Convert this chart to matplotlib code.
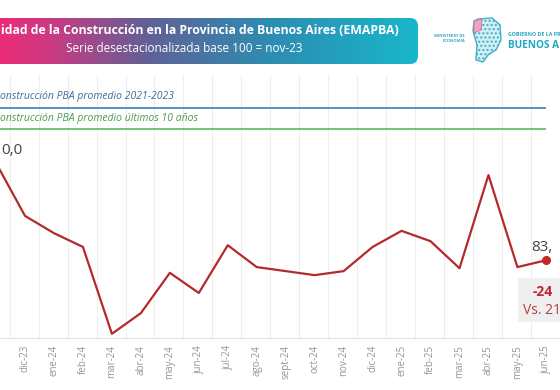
import numpy as np
import matplotlib
matplotlib.use('Agg')
import matplotlib.pyplot as plt
from matplotlib.colors import LinearSegmentedColormap
from matplotlib.patches import FancyBboxPatch, Polygon, Rectangle

plt.rcParams['font.family'] = ['Open Sans', 'DejaVu Sans']

# data (the picture is a crop: left and right edges cut)
months = ['nov-23', 'dic-23', 'ene-24', 'feb-24', 'mar-24', 'abr-24', 'may-24',
          'jun-24', 'jul-24', 'ago-24', 'sept-24', 'oct-24', 'nov-24', 'dic-24',
          'ene-25', 'feb-25', 'mar-25', 'abr-25', 'may-25', 'jun-25']
index_values = [100.0, 90.8, 87.8, 85.4, 70.3, 73.9, 80.9, 77.4, 85.7, 81.9,
                81.2, 80.5, 81.2, 85.4, 88.2, 86.4, 81.7, 97.9, 81.9, 83.1]
avg_2021_2023 = 109.6
avg_10_years = 105.9

# visible parts of the texts
title = 'idad de la Construcción en la Provincia de Buenos Aires (EMAPBA)'
subtitle = 'Serie desestacionalizada base 100 = nov-23'
label_avg_2021 = 'onstrucción PBA promedio 2021-2023'
label_avg_10 = 'onstrucción PBA promedio últimos 10 años'
first_label = '0,0'
last_label = '83,'
vs_label = 'Vs. 21'

W, H = 560, 390
fig = plt.figure(figsize=(W / 100, H / 100), dpi=100)
renderer = fig.canvas.get_renderer()


def fx(px):
    return px / W


def fy(py):
    return 1 - py / H


def fit_text(t, width_px):
    # shrink or grow the font so the text spans the wanted width
    w = t.get_window_extent(renderer).width
    t.set_fontsize(t.get_fontsize() * width_px / w)


# ---- header banner with gradient ----
hax = fig.add_axes([0, fy(64), fx(418), fy(18) - fy(64)])
hax.set_xlim(0, 418)
hax.set_ylim(0, 46)
hax.axis('off')
cmap = LinearSegmentedColormap.from_list('banner', [
    (0.0, '#ec2c78'), (0.12, '#cb3a82'), (0.35, '#616096'),
    (0.65, '#2d8db2'), (1.0, '#19b6ca')])
grad = np.linspace(0, 1, 256).reshape(1, -1)
im = hax.imshow(grad, cmap=cmap, extent=[0, 418, 0, 46], aspect='auto')
clip = FancyBboxPatch((-20, 0), 438, 46, boxstyle='round,pad=0,rounding_size=8',
                      transform=hax.transData, facecolor='none', edgecolor='none')
hax.add_patch(clip)
im.set_clip_path(clip)

t = fig.text(fx(1), fy(31), title, color='white', fontweight='bold',
             fontsize=10, ha='left', va='center')
fit_text(t, 398)
t = fig.text(fx(184), fy(48), subtitle, color='white', fontsize=9,
             ha='center', va='center')
fit_text(t, 239)

# ---- logos ----
fig.text(fx(465), fy(36), 'MINISTERIO DE', fontsize=3, fontweight='bold',
         color='#3aa6bd', ha='right', va='center')
fig.text(fx(465), fy(41), 'ECONOMÍA', fontsize=3, fontweight='bold',
         color='#3aa6bd', ha='right', va='center')
shape = [(478, 19), (492, 18), (500, 25), (501, 40), (496, 50), (488, 55),
         (483, 62), (476, 60), (477, 45), (473, 31), (474, 21)]
fig.patches.append(Polygon([(fx(a), fy(b)) for a, b in shape], closed=True,
                           transform=fig.transFigure, facecolor='#d3eff4',
                           edgecolor='#3bb1c9', lw=1.0, hatch='....'))
fig.patches.append(Polygon([(fx(a), fy(b)) for a, b in
                            [(474, 21), (482, 19), (481, 30), (474, 33)]],
                           closed=True, transform=fig.transFigure,
                           facecolor='#f0a3c2', edgecolor='#e46b9c', lw=0.6))
fig.text(fx(508), fy(35), 'GOBIERNO DE LA PR', fontsize=3.8, fontweight='bold',
         color='#2aa8c2', ha='left', va='center')
t = fig.text(fx(508), fy(46), 'BUENOS A', fontsize=10, fontweight='bold',
             color='#1ea9c6', ha='left', va='center')
fit_text(t, 51)

# ---- main chart ----
ax = fig.add_axes([0, fy(338), 1, fy(75) - fy(338)])
x = np.arange(len(months))
ax.plot(x, index_values, color='#b42a2c', lw=1.6)
ax.plot(x[-1], index_values[-1], 'o', color='#c8252b', ms=5.5)
ax.set_xlim(0.1365, 19.25)
ax.set_ylim(69.57, 115.3)

ax.set_xticks(x[1:])
ax.set_xticklabels(months[1:], rotation=90, fontsize=7, color='#959595')
ax.tick_params(axis='x', length=0, pad=5)
ax.set_yticks([])
ax.set_xticks(x + 0.47, minor=True)
ax.tick_params(axis='x', which='minor', length=0)
ax.grid(which='minor', axis='x', color='#eeeeee', lw=0.8)
for s in ['top', 'left', 'right']:
    ax.spines[s].set_visible(False)
ax.spines['bottom'].set_color('#e2e2e2')
ax.spines['bottom'].set_linewidth(0.8)

# reference averages
x0 = ax.get_xlim()[0]
ax.hlines(avg_2021_2023, x0, x[-1], color='#3f7fb4', lw=1.2)
ax.hlines(avg_10_years, x0, x[-1], color='#5cb85c', lw=1.2)
ax.annotate(label_avg_2021, xy=(0, avg_2021_2023), xycoords=('axes fraction', 'data'),
            xytext=(0, 4), textcoords='offset points', ha='left', va='bottom',
            style='italic', fontsize=7.5, color='#3a6c98')
ax.annotate(label_avg_10, xy=(0, avg_10_years), xycoords=('axes fraction', 'data'),
            xytext=(0, 4), textcoords='offset points', ha='left', va='bottom',
            style='italic', fontsize=7.5, color='#4d9a4d')

# value labels
ax.annotate(first_label, xy=(0, index_values[0]), xycoords=('axes fraction', 'data'),
            xytext=(1, 6.5), textcoords='offset points', ha='left', va='baseline',
            fontsize=11, color='#444444')
ax.annotate(last_label, xy=(x[-1], index_values[-1]), xytext=(-11, 6.5),
            textcoords='offset points', ha='left', va='baseline',
            fontsize=11, color='#444444')

# change vs 2021-2023 average box
pct = (index_values[-1] / avg_2021_2023 - 1) * 100
fig.patches.append(Rectangle((fx(518), fy(322)), 42 / W, 44 / H,
                             transform=fig.transFigure, facecolor='#efefef',
                             edgecolor='none'))
fig.text(fx(533), fy(291.5), f'{pct:.0f}', fontsize=10, fontweight='bold',
         color='#c0272d', ha='left', va='center')
fig.text(fx(523), fy(310), vs_label, fontsize=10, color='#b8403f',
         ha='left', va='center')

fig.savefig('out.png', dpi=100, facecolor='white')
